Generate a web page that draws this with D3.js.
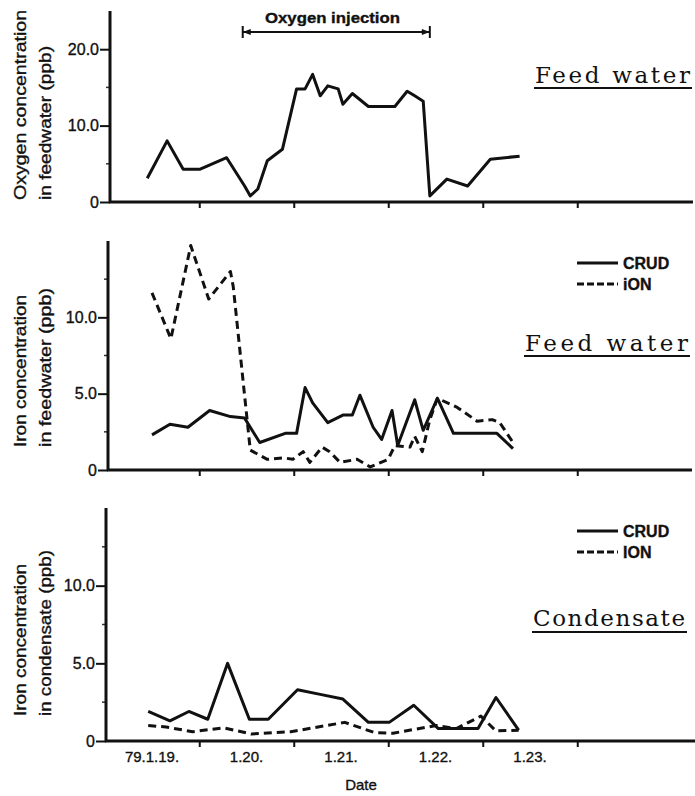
<!DOCTYPE html>
<html>
<head>
<meta charset="utf-8">
<script src="https://cdn.jsdelivr.net/npm/d3@7/dist/d3.min.js"></script>
<style>
  body { margin: 0; background: #fff; }
  text { font-family: "Liberation Sans", Arial, sans-serif; fill: #111; stroke: #111; stroke-width: 0.35px; }
  .mono { font-family: "DejaVu Serif", "Liberation Serif", serif; stroke-width: 0; }
</style>
</head>
<body>
<svg width="695" height="796"></svg>
<script>
// days since 79.1.19 (fractional), values in ppb
const o2Days   = [18.95, 19.16, 19.33, 19.51, 19.79, 19.98, 20.04, 20.12, 20.22, 20.38, 20.53, 20.62, 20.70, 20.78, 20.86, 20.97, 21.02, 21.12, 21.29, 21.57, 21.70, 21.78, 21.87, 21.94, 22.12, 22.34, 22.58, 22.89];
const o2Values = [3.1, 8.0, 4.3, 4.3, 5.8, 2.1, 0.8, 1.7, 5.4, 6.9, 14.8, 14.8, 16.7, 13.9, 15.2, 14.8, 12.8, 14.2, 12.5, 12.5, 14.5, 13.9, 13.2, 0.8, 3.0, 2.1, 5.6, 6.0];

const fwCrudDays   = [19.00, 19.19, 19.38, 19.61, 19.83, 19.98, 20.14, 20.41, 20.53, 20.62, 20.70, 20.86, 21.02, 21.12, 21.20, 21.34, 21.43, 21.54, 21.60, 21.78, 21.87, 22.02, 22.19, 22.65, 22.82];
const fwCrudValues = [2.3, 3.0, 2.8, 3.9, 3.5, 3.4, 1.8, 2.4, 2.4, 5.4, 4.4, 3.1, 3.6, 3.6, 4.9, 2.8, 2.0, 3.9, 1.6, 4.6, 2.6, 4.7, 2.4, 2.4, 1.4];

const fwIonDays   = [19.00, 19.20, 19.41, 19.60, 19.83, 19.86, 20.04, 20.22, 20.39, 20.49, 20.60, 20.67, 20.80, 20.88, 20.99, 21.17, 21.31, 21.50, 21.57, 21.73, 21.78, 21.86, 21.94, 22.02, 22.23, 22.44, 22.60, 22.68, 22.82];
const fwIonValues = [11.6, 8.6, 14.7, 11.2, 13.0, 12.0, 1.3, 0.7, 0.8, 0.7, 1.2, 0.5, 1.5, 1.2, 0.5, 0.7, 0.2, 0.7, 1.6, 1.5, 2.2, 1.2, 3.3, 4.7, 4.1, 3.2, 3.3, 3.1, 1.8];

const cdCrudDays   = [18.96, 19.19, 19.39, 19.59, 19.80, 20.03, 20.23, 20.54, 20.78, 21.02, 21.29, 21.51, 21.77, 22.03, 22.45, 22.64, 22.88];
const cdCrudValues = [1.9, 1.3, 1.9, 1.4, 5.0, 1.4, 1.4, 3.3, 3.0, 2.7, 1.2, 1.2, 2.3, 0.8, 0.8, 2.8, 0.7];

const cdIonDays   = [18.96, 19.15, 19.43, 19.76, 20.05, 20.47, 21.04, 21.35, 21.55, 22.01, 22.22, 22.48, 22.64, 22.88];
const cdIonValues = [1.0, 0.9, 0.6, 0.85, 0.45, 0.6, 1.2, 0.55, 0.5, 1.0, 0.8, 1.6, 0.65, 0.7];

const dateTicks  = [19, 20, 21, 22, 23];
const dateLabels = ["79.1.19.", "1.20.", "1.21.", "1.22.", "1.23."];
const injection  = [19.96, 21.94];

const svg = d3.select("svg");
const x = d3.scaleLinear().domain([19, 23]).range([152, 530]);

const panels = [
  { axisX: 110, top: 11, base: 202, max: 25, end: 693, ticks: [0, 10, 20], minor: [5, 15],
    title: ["Oxygen concentration", "in feedwater (ppb)"], tStart: 200, tLen: [190, 154],
    series: [{ days: o2Days, values: o2Values, dash: null }] },
  { axisX: 108, top: 241, base: 470, max: 15, end: 692, ticks: [0, 5, 10], minor: [2.5, 7.5, 12.5],
    title: ["Iron concentration", "in feedwater (ppb)"], tStart: 447, tLen: [152, 159],
    series: [{ days: fwCrudDays, values: fwCrudValues, dash: null },
             { days: fwIonDays, values: fwIonValues, dash: "8,5" }] },
  { axisX: 106, top: 508, base: 741, max: 15, end: 695, ticks: [0, 5, 10], minor: [2.5, 7.5, 12.5],
    title: ["Iron concentration", "in condensate (ppb)"], tStart: 716, tLen: [152, 166],
    series: [{ days: cdCrudDays, values: cdCrudValues, dash: null },
             { days: cdIonDays, values: cdIonValues, dash: "8,5" }] }
];

panels.forEach(p => {
  const y = d3.scaleLinear().domain([0, p.max]).range([p.base, p.top]);
  const g = svg.append("g");

  // y axis
  const ya = g.append("g")
    .attr("transform", `translate(${p.axisX},0)`)
    .call(d3.axisLeft(y).tickValues(p.ticks).tickSize(10).tickPadding(1)
      .tickFormat(d => d === 0 ? "0" : d.toFixed(1)));
  ya.select(".domain").remove();
  ya.selectAll("line").attr("stroke", "#111").attr("stroke-width", 2);
  ya.selectAll("text").style("font-size", "16px").attr("fill", "#111");

  g.selectAll(".minor").data(p.minor).enter().append("line")
    .attr("x1", p.axisX - 4).attr("x2", p.axisX)
    .attr("y1", d => y(d)).attr("y2", d => y(d))
    .attr("stroke", "#333").attr("stroke-width", 1.5);

  g.append("line")
    .attr("x1", p.axisX).attr("x2", p.axisX)
    .attr("y1", p.top).attr("y2", p.base + 1)
    .attr("stroke", "#111").attr("stroke-width", 3);

  // x axis
  const xa = g.append("g")
    .attr("transform", `translate(0,${p.base})`)
    .call(d3.axisBottom(x).tickValues([19.5, 20.5, 21.5, 22.5, 23.5]).tickSize(6).tickFormat(""));
  xa.select(".domain").remove();
  xa.selectAll("line").attr("stroke", "#111").attr("stroke-width", 2);

  g.append("line")
    .attr("x1", p.axisX - 1).attr("x2", p.end)
    .attr("y1", p.base).attr("y2", p.base)
    .attr("stroke", "#111").attr("stroke-width", 3);

  // axis title, two rotated lines
  p.title.forEach((t, i) => {
    g.append("text")
      .attr("transform", `translate(${i === 0 ? 26 : 51},${p.tStart}) rotate(-90)`)
      .attr("textLength", p.tLen[i])
      .attr("lengthAdjust", "spacingAndGlyphs")
      .style("font-size", "16px")
      .text(t);
  });

  // data
  const line = d3.line().x(d => x(d[0])).y(d => y(d[1]));
  p.series.forEach(s => {
    g.append("path")
      .datum(d3.zip(s.days, s.values))
      .attr("d", line)
      .attr("fill", "none")
      .attr("stroke", "#111")
      .attr("stroke-width", 3)
      .attr("stroke-linejoin", "round")
      .attr("stroke-dasharray", s.dash);
  });
});

// oxygen injection bracket
const bx0 = x(injection[0]), bx1 = x(injection[1]), by = 32;
svg.append("line").attr("x1", bx0).attr("x2", bx1).attr("y1", by).attr("y2", by)
  .attr("stroke", "#111").attr("stroke-width", 2);
[bx0, bx1].forEach((bx, i) => {
  svg.append("line").attr("x1", bx).attr("x2", bx).attr("y1", by - 6).attr("y2", by + 6)
    .attr("stroke", "#111").attr("stroke-width", 2);
  const dir = i === 0 ? 1 : -1;
  svg.append("path")
    .attr("d", `M${bx},${by} L${bx + dir * 8},${by - 3} L${bx + dir * 8},${by + 3} Z`)
    .attr("fill", "#111");
});
svg.append("text")
  .attr("x", 265).attr("y", 23)
  .attr("textLength", 135).attr("lengthAdjust", "spacingAndGlyphs")
  .style("font-size", "15px").style("font-weight", "bold")
  .text("Oxygen injection");

// section names
const sections = [
  { label: "Feed water", x: 535, y: 83, len: 155, ul: 88 },
  { label: "Feed water", x: 525, y: 351, len: 163, ul: 356 },
  { label: "Condensate", x: 533, y: 626, len: 152, ul: 632 }
];
sections.forEach(s => {
  svg.append("text").attr("class", "mono")
    .attr("x", s.x).attr("y", s.y)
    .attr("textLength", s.len).attr("lengthAdjust", "spacing")
    .style("font-size", "23px")
    .text(s.label);
  svg.append("line").attr("x1", s.x - 1).attr("x2", s.x + s.len + 2)
    .attr("y1", s.ul).attr("y2", s.ul)
    .attr("stroke", "#111").attr("stroke-width", 2);
});

// legends
const legends = [
  { y: 263, names: ["CRUD", "iON"] },
  { y: 531, names: ["CRUD", "ION"] }
];
legends.forEach(l => {
  l.names.forEach((n, i) => {
    const ly = l.y + i * 21;
    svg.append("line").attr("x1", 577).attr("x2", 618)
      .attr("y1", ly).attr("y2", ly)
      .attr("stroke", "#111").attr("stroke-width", 3)
      .attr("stroke-dasharray", i === 1 ? "7,3" : null);
    svg.append("text").attr("x", 623).attr("y", ly + 6)
      .style("font-size", "16px").style("font-weight", "bold")
      .text(n);
  });
});

// date labels
svg.selectAll(".dlab").data(dateTicks).enter().append("text")
  .attr("x", d => x(d)).attr("y", 762)
  .attr("text-anchor", "middle")
  .style("font-size", "15px")
  .text((d, i) => dateLabels[i]);

svg.append("text")
  .attr("x", 361).attr("y", 790)
  .attr("text-anchor", "middle")
  .style("font-size", "15px")
  .text("Date");
</script>
</body>
</html>
